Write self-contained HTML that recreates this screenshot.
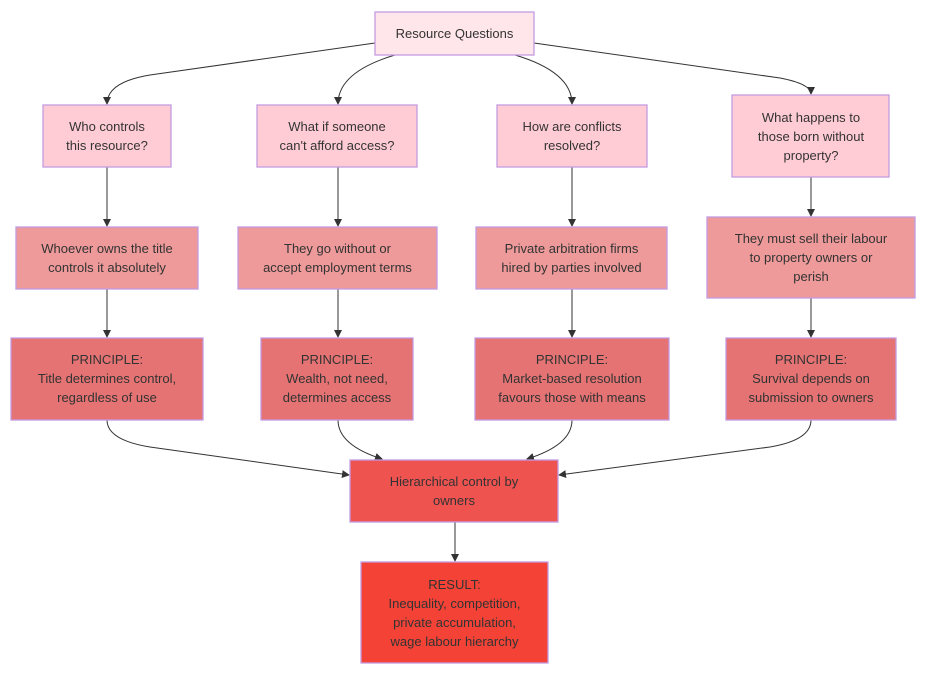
<!DOCTYPE html>
<html><head><style>
html,body{margin:0;padding:0;background:#fff;}
svg{display:block;}
text{font-family:"Liberation Sans","DejaVu Sans",sans-serif;font-size:13px;fill:#333;text-anchor:middle;}
rect{stroke:#c39be0;stroke-width:1.3;}
path.e{fill:none;stroke:#333;stroke-width:1;}
</style></head><body>
<svg width="929" height="679" viewBox="0 0 929 679" xmlns="http://www.w3.org/2000/svg">
<defs><marker id="a" markerWidth="8" markerHeight="8" refX="7" refY="4" orient="auto" markerUnits="userSpaceOnUse"><path d="M0,0 L8,4 L0,8 z" fill="#333"/></marker></defs>
<path class="e" marker-end="url(#a)" d="M375,43 L150,75 Q107,82 107,104"/>
<path class="e" marker-end="url(#a)" d="M395,55 Q338,72 338,104"/>
<path class="e" marker-end="url(#a)" d="M515,55 Q572,72 572,104"/>
<path class="e" marker-end="url(#a)" d="M534,43 L780,78 Q811,84 811,94"/>
<path class="e" marker-end="url(#a)" d="M107,167 L107,226"/>
<path class="e" marker-end="url(#a)" d="M338,167 L338,226"/>
<path class="e" marker-end="url(#a)" d="M572,167 L572,226"/>
<path class="e" marker-end="url(#a)" d="M811,177 L811,216"/>
<path class="e" marker-end="url(#a)" d="M107,289 L107,337"/>
<path class="e" marker-end="url(#a)" d="M338,289 L338,337"/>
<path class="e" marker-end="url(#a)" d="M572,289 L572,337"/>
<path class="e" marker-end="url(#a)" d="M811,298 L811,337"/>
<path class="e" marker-end="url(#a)" d="M107,420 Q107,440 150,447 L349,475"/>
<path class="e" marker-end="url(#a)" d="M338,420 Q338,445 382,459"/>
<path class="e" marker-end="url(#a)" d="M572,420 Q572,445 527,459"/>
<path class="e" marker-end="url(#a)" d="M811,420 Q811,440 770,447 L559,475"/>
<path class="e" marker-end="url(#a)" d="M455,522 L455,561"/>
<rect x="375" y="12" width="159" height="43" fill="#ffe6ea"/>
<text x="454.5" y="38">Resource Questions</text>
<rect x="43" y="105" width="128" height="62" fill="#ffccd5"/>
<text x="107" y="131">Who controls</text><text x="107" y="150">this resource?</text>
<rect x="257" y="105" width="160" height="62" fill="#ffccd5"/>
<text x="337" y="131">What if someone</text><text x="337" y="150">can't afford access?</text>
<rect x="497" y="105" width="150" height="62" fill="#ffccd5"/>
<text x="572" y="131">How are conflicts</text><text x="572" y="150">resolved?</text>
<rect x="732" y="95" width="157" height="82" fill="#ffccd5"/>
<text x="811" y="122">What happens to</text><text x="811" y="141">those born without</text><text x="811" y="160">property?</text>
<rect x="16" y="227" width="182" height="62" fill="#ef9a9a"/>
<text x="107" y="253">Whoever owns the title</text><text x="107" y="272">controls it absolutely</text>
<rect x="238" y="227" width="199" height="62" fill="#ef9a9a"/>
<text x="337.5" y="253">They go without or</text><text x="337.5" y="272">accept employment terms</text>
<rect x="476" y="227" width="191" height="62" fill="#ef9a9a"/>
<text x="571.5" y="253">Private arbitration firms</text><text x="571.5" y="272">hired by parties involved</text>
<rect x="707" y="217" width="208" height="81" fill="#ef9a9a"/>
<text x="811" y="243">They must sell their labour</text><text x="811" y="262">to property owners or</text><text x="811" y="281">perish</text>
<rect x="11" y="338" width="192" height="82" fill="#e57373"/>
<text x="107" y="364">PRINCIPLE:</text><text x="107" y="383">Title determines control,</text><text x="107" y="402">regardless of use</text>
<rect x="261" y="338" width="152" height="82" fill="#e57373"/>
<text x="337" y="364">PRINCIPLE:</text><text x="337" y="383">Wealth, not need,</text><text x="337" y="402">determines access</text>
<rect x="475" y="338" width="194" height="82" fill="#e57373"/>
<text x="572" y="364">PRINCIPLE:</text><text x="572" y="383">Market-based resolution</text><text x="572" y="402">favours those with means</text>
<rect x="726" y="338" width="170" height="82" fill="#e57373"/>
<text x="811" y="364">PRINCIPLE:</text><text x="811" y="383">Survival depends on</text><text x="811" y="402">submission to owners</text>
<rect x="350" y="460" width="208" height="62" fill="#ef5350"/>
<text x="454" y="486">Hierarchical control by</text><text x="454" y="505">owners</text>
<rect x="361" y="562" width="187" height="101" fill="#f44336"/>
<text x="454.5" y="589">RESULT:</text><text x="454.5" y="608">Inequality, competition,</text><text x="454.5" y="627">private accumulation,</text><text x="454.5" y="646">wage labour hierarchy</text>
</svg>
</body></html>
